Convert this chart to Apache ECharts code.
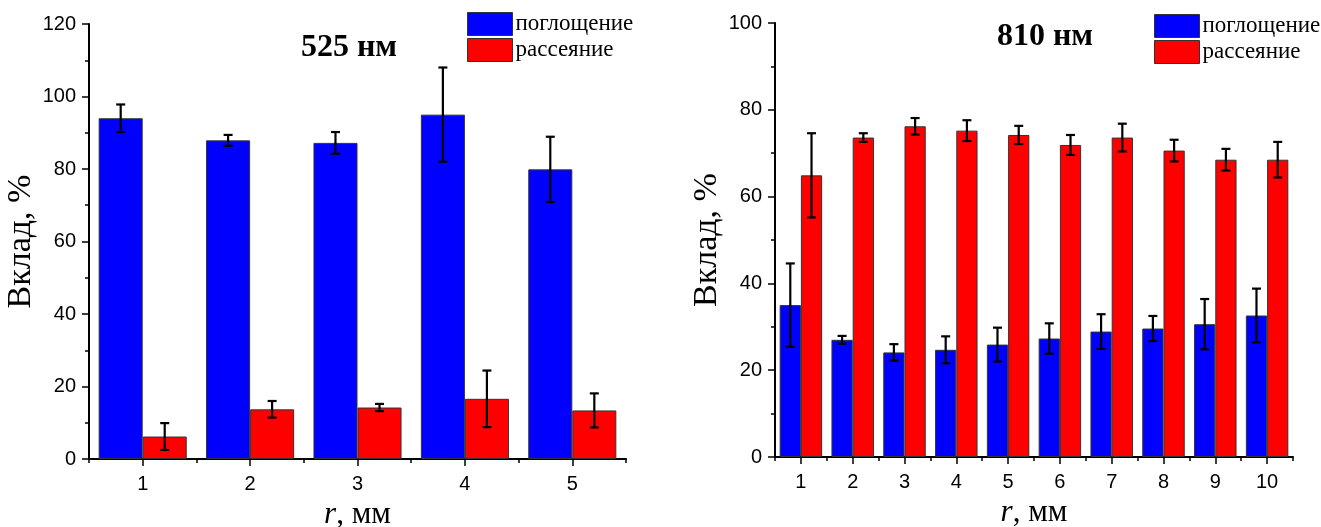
<!DOCTYPE html>
<html>
<head>
<meta charset="utf-8">
<script src="https://cdn.jsdelivr.net/npm/echarts@6/dist/echarts.min.js"></script>
<style>
html,body{margin:0;padding:0;background:#fff;}
#c{width:1321px;height:527px;}
</style>
</head>
<body>
<div id="c"></div>
<script>
// ---- data ----
var cats525 = ['1', '2', '3', '4', '5'];
var abs525 = [94.0, 87.9, 87.2, 95.0, 79.9];
var abs525Err = [3.8, 1.5, 3.0, 13.0, 9.0];
var sca525 = [6.2, 13.7, 14.2, 16.6, 13.4];
var sca525Err = [3.7, 2.3, 1.0, 7.8, 4.7];

var cats810 = ['1', '2', '3', '4', '5', '6', '7', '8', '9', '10'];
var abs810 = [35.0, 27.0, 24.1, 24.7, 25.9, 27.3, 28.9, 29.6, 30.6, 32.6];
var abs810Err = [9.6, 0.9, 1.9, 3.1, 3.9, 3.5, 4.0, 2.9, 5.8, 6.2];
var sca810 = [64.9, 73.6, 76.2, 75.2, 74.2, 71.9, 73.6, 70.6, 68.5, 68.5];
var sca810Err = [9.7, 1.0, 1.9, 2.4, 2.1, 2.3, 3.2, 2.5, 2.5, 4.1];

var nameAbs = 'поглощение';
var nameSca = 'рассеяние';
var titles = ['525 нм', '810 нм'];
var yTitle = 'Вклад, %';

// ---- helpers ----
var BAR_FRAC = 0.41; // each bar's share of a category (barCategoryGap 18%)
function errData(vals, errs) {
  return vals.map(function (v, i) { return [i, v - errs[i], v + errs[i]]; });
}
function errRender(side) {
  return function (params, api) {
    var i = api.value(0);
    var lo = api.coord([i, api.value(1)]);
    var hi = api.coord([i, api.value(2)]);
    var bw = api.size([1, 0])[0] * BAR_FRAC;
    var x = lo[0] + side * bw / 2;
    var cap = 4.5;
    var st = { stroke: '#000', lineWidth: 2.2 };
    return {
      type: 'group',
      children: [
        { type: 'line', shape: { x1: x, y1: lo[1], x2: x, y2: hi[1] }, style: st },
        { type: 'line', shape: { x1: x - cap, y1: hi[1], x2: x + cap, y2: hi[1] }, style: st },
        { type: 'line', shape: { x1: x - cap, y1: lo[1], x2: x + cap, y2: lo[1] }, style: st }
      ]
    };
  };
}
var tickFont = { fontFamily: 'Liberation Sans', fontSize: 20, color: '#000' };
var axisLineStyle = { color: '#000', width: 2 };

function xAxes(cats, gridIndex) {
  return [
    {
      type: 'category', gridIndex: gridIndex, data: cats, position: 'bottom',
      axisLine: { show: true, lineStyle: axisLineStyle },
      axisTick: { show: true, alignWithLabel: true, length: 7, lineStyle: { color: '#000', width: 1.5 } },
      axisLabel: Object.assign({ margin: 15 }, tickFont),
      name: '{i|r}, мм', nameLocation: 'middle', nameGap: 39,
      nameTextStyle: {
        fontFamily: 'Liberation Serif', fontSize: 31, color: '#000',
        rich: { i: { fontFamily: 'Liberation Serif', fontStyle: 'italic', fontSize: 31, color: '#000' } }
      },
      splitLine: { show: false }
    },
    {
      type: 'category', gridIndex: gridIndex, data: cats, position: 'bottom',
      axisLine: { show: false },
      axisTick: { show: true, alignWithLabel: false, interval: 0, length: 4, lineStyle: { color: '#000', width: 1.5 } },
      axisLabel: { show: false },
      splitLine: { show: false }
    }
  ];
}
function yAxis(max, gridIndex) {
  return {
    type: 'value', gridIndex: gridIndex, min: 0, max: max, interval: 20,
    axisLine: { show: true, lineStyle: axisLineStyle },
    axisTick: { show: true, length: 7, lineStyle: { color: '#000', width: 1.5 } },
    minorTick: { show: true, splitNumber: 2, length: 4, lineStyle: { color: '#000', width: 1.5 } },
    axisLabel: Object.assign({ margin: 13 }, tickFont),
    splitLine: { show: false },
    name: yTitle, nameLocation: 'middle', nameGap: 51,
    nameTextStyle: { fontFamily: 'Liberation Serif', fontSize: 34, color: '#000' }
  };
}
function barSeries(name, vals, color, xi, yi) {
  return {
    type: 'bar', name: name, data: vals, xAxisIndex: xi, yAxisIndex: yi,
    barGap: '0%', barCategoryGap: '18%',
    itemStyle: { color: color, borderColor: '#333', borderWidth: 1 },
    z: 2
  };
}
function errSeries(vals, errs, side, xi, yi) {
  return {
    type: 'custom', xAxisIndex: xi, yAxisIndex: yi,
    data: errData(vals, errs),
    encode: { x: 0, y: [1, 2] },
    renderItem: errRender(side),
    z: 5, silent: true
  };
}
function legend(left, top) {
  return {
    data: [nameAbs, nameSca], orient: 'vertical', left: left, top: top, padding: 0,
    icon: 'rect', itemWidth: 45, itemHeight: 23, itemGap: 2, selectedMode: false,
    itemStyle: { borderColor: '#333', borderWidth: 1 },
    textStyle: { fontFamily: 'Liberation Serif', fontSize: 23, color: '#000', padding: [0, 0, 0, -2] }
  };
}

var chart = echarts.init(document.getElementById('c'), null, { renderer: 'canvas' });
var option = {
  animation: false,
  backgroundColor: '#fff',
  title: [
    { text: titles[0], left: 349, top: 32, textAlign: 'center', padding: 0,
      textStyle: { fontFamily: 'Liberation Serif', fontWeight: 'bold', fontSize: 32, color: '#000' } },
    { text: titles[1], left: 1045, top: 21, textAlign: 'center', padding: 0,
      textStyle: { fontFamily: 'Liberation Serif', fontWeight: 'bold', fontSize: 32, color: '#000' } }
  ],
  legend: [legend(467, 12), legend(1154, 14)],
  grid: [
    { left: 89, top: 24, width: 537, height: 435, containLabel: false, outerBoundsMode: 'none' },
    { left: 775, top: 23, width: 518, height: 434, containLabel: false, outerBoundsMode: 'none' }
  ],
  xAxis: xAxes(cats525, 0).concat(xAxes(cats810, 1)),
  yAxis: [yAxis(120, 0), yAxis(100, 1)],
  series: [
    barSeries(nameAbs, abs525, '#0000FF', 0, 0),
    barSeries(nameSca, sca525, '#FF0000', 0, 0),
    errSeries(abs525, abs525Err, -1, 0, 0),
    errSeries(sca525, sca525Err, 1, 0, 0),
    barSeries(nameAbs, abs810, '#0000FF', 2, 1),
    barSeries(nameSca, sca810, '#FF0000', 2, 1),
    errSeries(abs810, abs810Err, -1, 2, 1),
    errSeries(sca810, sca810Err, 1, 2, 1)
  ]
};
chart.setOption(option);
</script>
</body>
</html>
